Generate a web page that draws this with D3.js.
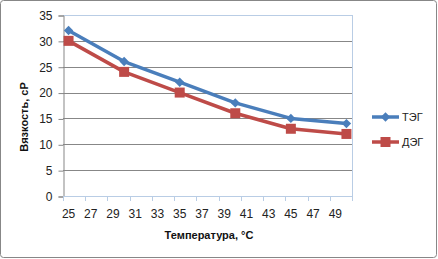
<!DOCTYPE html>
<html>
<head>
<meta charset="utf-8">
<script src="https://cdn.jsdelivr.net/npm/d3@7"></script>
<style>
  body { margin: 0; background: #fff; }
  text { font-family: "Liberation Sans", Arial, sans-serif; }
</style>
</head>
<body>
<div id="chart"></div>
<script>
// data
var categories = [25, 26, 27, 28, 29, 30, 31, 32, 33, 34, 35, 36, 37,
                  38, 39, 40, 41, 42, 43, 44, 45, 46, 47, 48, 49, 50];
var xLabels    = [25, 27, 29, 31, 33, 35, 37, 39, 41, 43, 45, 47, 49];
var temps      = [25, 30, 35, 40, 45, 50];
var tegValues  = [32, 26, 22, 18, 15, 14];
var degValues  = [30, 24, 20, 16, 13, 12];
var yTicks     = [0, 5, 10, 15, 20, 25, 30, 35];
var seriesNames = ["ТЭГ", "ДЭГ"];

var width = 438, height = 259;
var plotLeft = 63, plotRight = 352, plotTop = 15, plotBottom = 196;
var gridColor = "#878787", axisBlue = "#b9cde5";
var blue = "#4a7ebb", red = "#be4b48";

var svg = d3.select("#chart").append("svg")
    .attr("width", width)
    .attr("height", height);

svg.append("rect")
    .attr("width", width).attr("height", height)
    .attr("fill", "white");

// outer chart border
svg.append("rect")
    .attr("x", 0.5).attr("y", 0.5)
    .attr("width", 436).attr("height", 257)
    .attr("rx", 3)
    .attr("fill", "none")
    .attr("stroke", gridColor);

var x = d3.scaleBand()
    .domain(categories)
    .range([plotLeft, plotRight])
    .padding(0);

var y = d3.scaleLinear()
    .domain([0, 35])
    .range([plotBottom, plotTop]);

// horizontal gridlines
svg.append("g")
  .selectAll("line")
  .data(yTicks.filter(function(d) { return d > 0; }))
  .enter().append("line")
    .attr("x1", plotLeft).attr("x2", plotRight)
    .attr("y1", function(d) { return Math.round(y(d)) + 0.5; })
    .attr("y2", function(d) { return Math.round(y(d)) + 0.5; })
    .attr("stroke", function(d) { return d === 35 ? axisBlue : gridColor; });

// right border of plot area
svg.append("line")
    .attr("x1", plotRight + 0.5).attr("x2", plotRight + 0.5)
    .attr("y1", Math.round(y(35))).attr("y2", plotBottom)
    .attr("stroke", axisBlue);

// y axis
var yAxis = d3.axisLeft(y)
    .tickValues(yTicks)
    .tickSize(5)
    .tickPadding(6);

var yg = svg.append("g")
    .attr("transform", "translate(" + (plotLeft + 0.5) + ",0.5)")
    .call(yAxis);
yg.select(".domain").attr("stroke", gridColor);
yg.selectAll(".tick line").attr("stroke", gridColor);
yg.selectAll(".tick text")
    .attr("font-size", 12)
    .attr("fill", "#222")
    .style("font-family", "'Liberation Sans', Arial, sans-serif");

// x axis (category axis, tick marks between categories)
var boundaries = d3.range(0, categories.length + 1, 2).map(function(i) {
  return plotLeft + i * x.step();
});

var xg = svg.append("g");
xg.append("line")
    .attr("x1", plotLeft).attr("x2", plotRight + 1)
    .attr("y1", plotBottom + 0.5).attr("y2", plotBottom + 0.5)
    .attr("stroke", axisBlue);
xg.selectAll("line.tick")
  .data(boundaries)
  .enter().append("line")
    .attr("class", "tick")
    .attr("x1", function(d) { return Math.round(d) + 0.5; })
    .attr("x2", function(d) { return Math.round(d) + 0.5; })
    .attr("y1", plotBottom).attr("y2", plotBottom + 5)
    .attr("stroke", axisBlue);
xg.selectAll("text")
  .data(xLabels)
  .enter().append("text")
    .attr("x", function(d) { return x(d) + x.bandwidth() / 2; })
    .attr("y", plotBottom + 22)
    .attr("text-anchor", "middle")
    .attr("font-size", 12)
    .attr("fill", "#222")
    .text(function(d) { return d; });

// axis titles
svg.append("text")
    .attr("x", 209).attr("y", 239)
    .attr("text-anchor", "middle")
    .attr("font-size", 11)
    .attr("font-weight", "bold")
    .attr("fill", "#111")
    .text("Температура, °С");

svg.append("text")
    .attr("transform", "translate(28,117) rotate(-90)")
    .attr("text-anchor", "middle")
    .attr("font-size", 11)
    .attr("font-weight", "bold")
    .attr("fill", "#111")
    .text("Вязкость, сР");

// series (diamond = square turned by 45 degrees)
var series = [
  { name: seriesNames[0], values: tegValues, color: blue, size: 44, rotate: 45 },
  { name: seriesNames[1], values: degValues, color: red, size: 100, rotate: 0 }
];

var line = d3.line()
    .x(function(d, i) { return x(temps[i]) + x.bandwidth() / 2; })
    .y(function(d) { return y(d); });

series.forEach(function(s) {
  svg.append("path")
      .datum(s.values)
      .attr("d", line)
      .attr("fill", "none")
      .attr("stroke", s.color)
      .attr("stroke-width", 3.5)
      .attr("stroke-linejoin", "round");

  svg.append("g").selectAll("path")
    .data(s.values)
    .enter().append("path")
      .attr("d", d3.symbol().type(d3.symbolSquare).size(s.size))
      .attr("transform", function(d, i) {
        return "translate(" + (x(temps[i]) + x.bandwidth() / 2) + "," + y(d) + ") rotate(" + s.rotate + ")";
      })
      .attr("fill", s.color);
});

// legend
var legend = svg.append("g")
  .selectAll("g")
  .data(series)
  .enter().append("g")
    .attr("transform", function(d, i) { return "translate(372," + (117 + i * 25) + ")"; });

legend.append("line")
    .attr("x1", 0).attr("x2", 27)
    .attr("stroke", function(d) { return d.color; })
    .attr("stroke-width", 3.5);
legend.append("path")
    .attr("d", function(d) { return d3.symbol().type(d3.symbolSquare).size(d.size)(); })
    .attr("transform", function(d) { return "translate(13.5,0) rotate(" + d.rotate + ")"; })
    .attr("fill", function(d) { return d.color; });
legend.append("text")
    .attr("x", 30)
    .attr("dy", "0.35em")
    .attr("font-size", 11)
    .attr("fill", "#222")
    .text(function(d) { return d.name; });
</script>
</body>
</html>
